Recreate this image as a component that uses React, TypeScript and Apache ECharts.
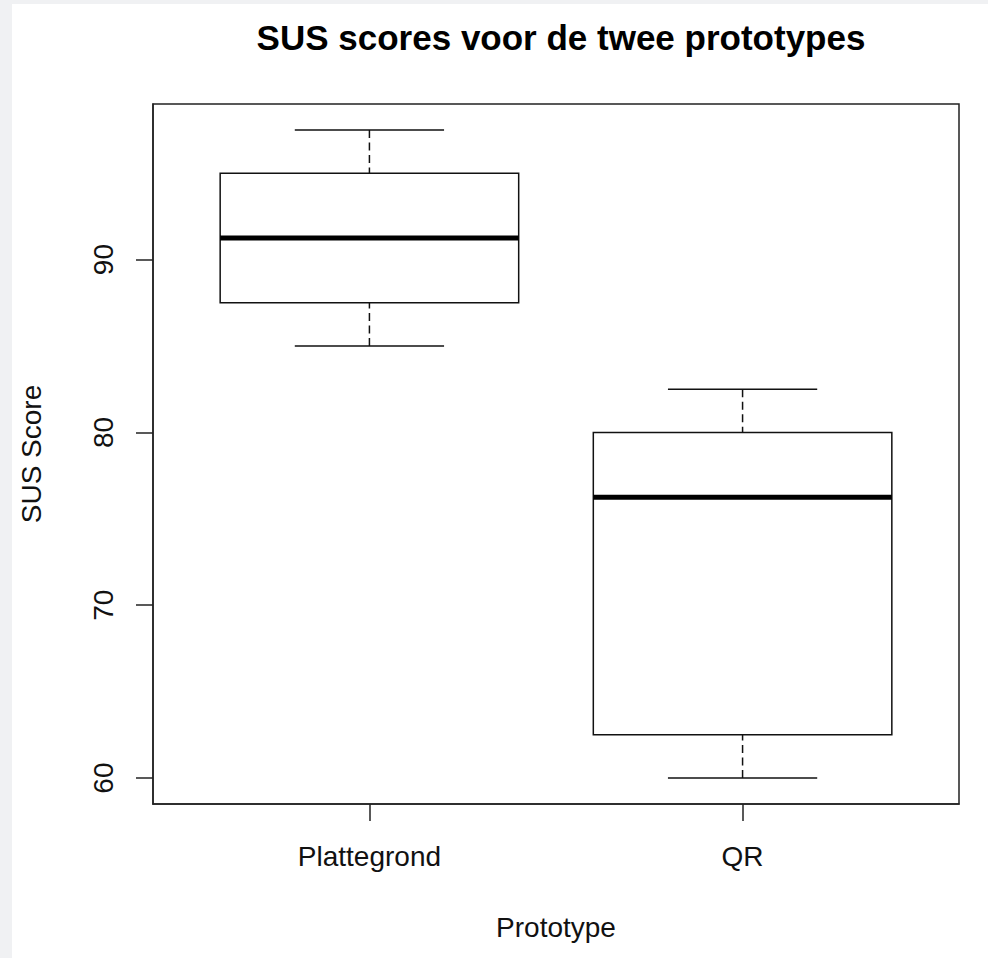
import React, { useEffect, useRef } from "react";
import * as echarts from "echarts";

const categories = ["Plattegrond", "QR"];
// [min, q1, median, q3, max]
const boxStats = [
  [85, 87.5, 91.25, 95, 97.5],
  [60, 62.5, 76.25, 80, 82.5],
];
const yTicks = [60, 70, 80, 90];
const xPositions = [1, 2];

const FONT = "'Liberation Sans', Arial, Helvetica, sans-serif";
const INK = "#111";

export default function App() {
  const ref = useRef<HTMLDivElement>(null);
  useEffect(() => {
    if (!ref.current) return;
    const chart = echarts.init(ref.current, undefined, { renderer: "svg" });
    const data = boxStats.map((s, i) => [xPositions[i], ...s]);
    chart.setOption({
      animation: false,
      backgroundColor: "#ffffff",
      title: {
        text: "SUS scores voor de twee prototypes",
        left: 556,
        top: 15,
        textAlign: "center",
        textStyle: { fontFamily: FONT, fontSize: 35, fontWeight: "bold", color: "#000" },
      },
      graphic: [
        { type: "rect", shape: { x: 0, y: 0, width: 12, height: 958 }, style: { fill: "#f0f1f3" }, silent: true },
        { type: "rect", shape: { x: 0, y: 0, width: 988, height: 4 }, style: { fill: "#f0f1f3" }, silent: true },
      ],
      grid: {
        left: 153,
        right: 29,
        top: 104,
        bottom: 154,
        show: true,
        borderColor: "#222",
        borderWidth: 1.5,
        backgroundColor: "transparent",
      },
      xAxis: {
        type: "value",
        min: 0.42,
        max: 2.58,
        name: "Prototype",
        nameLocation: "middle",
        nameGap: 109,
        nameTextStyle: { fontFamily: FONT, fontSize: 28, color: INK },
        axisLine: { show: true, lineStyle: { color: "#222", width: 1.5 } },
        axisTick: { show: true, customValues: xPositions, length: 17, lineStyle: { color: "#222", width: 1.5 } },
        axisLabel: {
          customValues: xPositions,
          formatter: (v: number) => categories[Math.round(v) - 1] ?? "",
          margin: 38,
          fontFamily: FONT,
          fontSize: 28,
          color: INK,
        },
        splitLine: { show: false },
      },
      yAxis: {
        type: "value",
        min: 58.5,
        max: 99,
        name: "SUS Score",
        nameLocation: "middle",
        nameRotate: 90,
        nameGap: 108,
        nameTextStyle: { fontFamily: FONT, fontSize: 28, color: INK },
        axisLine: { show: true, lineStyle: { color: "#222", width: 1.5 } },
        axisTick: { show: true, customValues: yTicks, length: 17, lineStyle: { color: "#222", width: 1.5 } },
        axisLabel: {
          customValues: yTicks,
          rotate: 90,
          margin: 36,
          fontFamily: FONT,
          fontSize: 28,
          color: INK,
        },
        splitLine: { show: false },
      },
      series: [
        {
          type: "custom",
          data,
          encode: { x: 0, y: [1, 2, 3, 4, 5] },
          renderItem: (params: any, api: any) => {
            const x = api.value(0);
            const mn = api.value(1);
            const q1 = api.value(2);
            const md = api.value(3);
            const q3 = api.value(4);
            const mx = api.value(5);
            const pL = api.coord([x - 0.4, q3]);
            const pR = api.coord([x + 0.4, q1]);
            const cL = api.coord([x - 0.2, mx])[0];
            const cR = api.coord([x + 0.2, mx])[0];
            const cx = api.coord([x, md])[0];
            const yMax = api.coord([x, mx])[1];
            const yMin = api.coord([x, mn])[1];
            const yQ1 = api.coord([x, q1])[1];
            const yQ3 = api.coord([x, q3])[1];
            const yMd = api.coord([x, md])[1];
            const solid = { stroke: INK, lineWidth: 1.5, fill: "none" };
            const dashed = { stroke: INK, lineWidth: 1.5, lineDash: [8, 4.5], fill: "none" };
            return {
              type: "group",
              children: [
                { type: "line", shape: { x1: cx, y1: yMax, x2: cx, y2: yQ3 }, style: dashed },
                { type: "line", shape: { x1: cx, y1: yMin, x2: cx, y2: yQ1 }, style: dashed },
                { type: "line", shape: { x1: cL, y1: yMax, x2: cR, y2: yMax }, style: solid },
                { type: "line", shape: { x1: cL, y1: yMin, x2: cR, y2: yMin }, style: solid },
                {
                  type: "rect",
                  shape: { x: pL[0], y: pL[1], width: pR[0] - pL[0], height: pR[1] - pL[1] },
                  style: { stroke: INK, lineWidth: 1.5, fill: "#fff" },
                },
                { type: "line", shape: { x1: pL[0], y1: yMd, x2: pR[0], y2: yMd }, style: { stroke: "#000", lineWidth: 5 } },
              ],
            };
          },
        },
      ],
    });
    return () => chart.dispose();
  }, []);
  return (
    <div
      ref={ref}
      style={{ position: "absolute", left: 0, top: 0, width: 988, height: 958 }}
    />
  );
}
